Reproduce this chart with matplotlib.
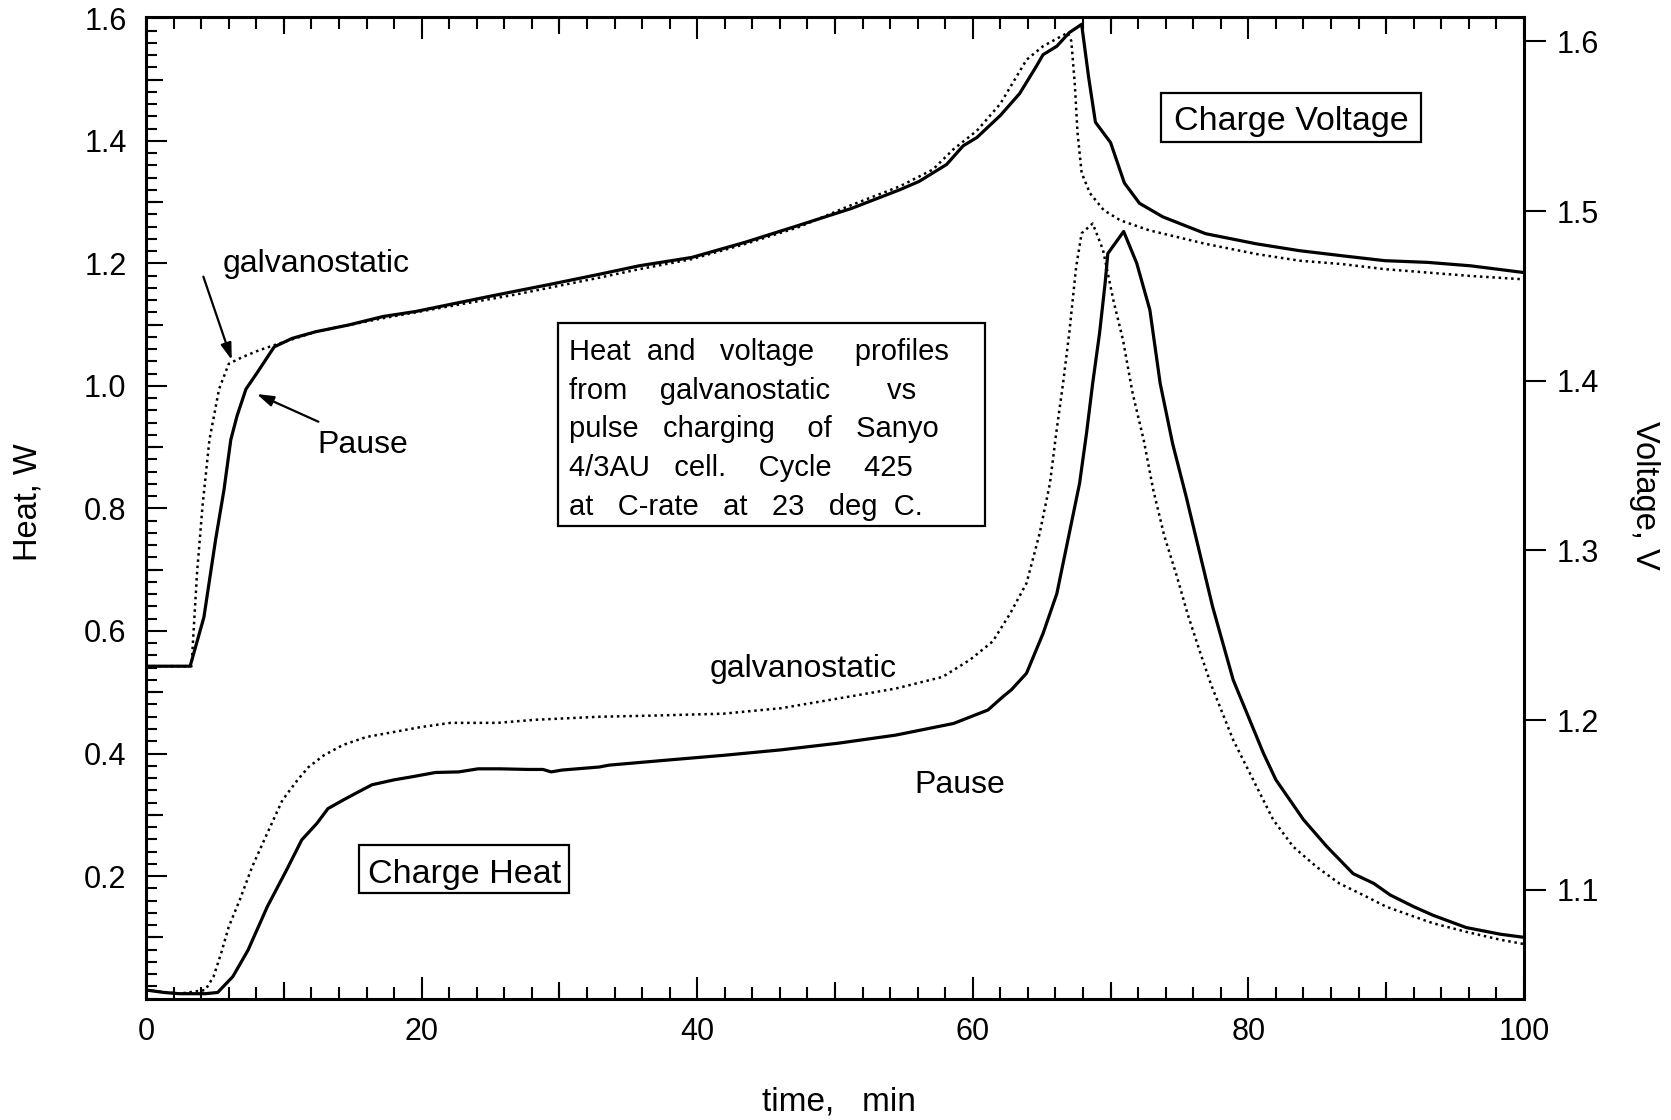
import matplotlib
matplotlib.use("Agg")
import matplotlib.pyplot as plt
from matplotlib.patches import Rectangle
from matplotlib.ticker import MultipleLocator, FormatStrFormatter, FixedLocator

plt.rcParams['font.family'] = ['Liberation Sans', 'DejaVu Sans']

# ---------------- charge voltage, V (right axis) ----------------
t_volt_galv = [0.0, 3.3, 3.7, 4.1, 4.6, 5.3, 6.0, 7.0, 8.2, 9.3, 12.3, 17.2, 22.0,
               26.8, 32.9, 35.8, 39.6, 43.5, 47.4, 51.2, 54.7, 57.1, 58.6, 60.3,
               62.0, 63.9, 65.1, 66.9, 67.15, 67.4, 67.6, 67.9, 68.5, 69.5, 70.7,
               72.8, 76.9, 80.6, 83.7, 86.8, 89.9, 93.0, 96.1, 100.0]
volt_galv = [1.2318, 1.2318, 1.2866, 1.3264, 1.3652, 1.3951, 1.4100, 1.4140, 1.4180,
             1.4210, 1.4289, 1.4369, 1.4439, 1.4508, 1.4608, 1.4658, 1.4717, 1.4807,
             1.4907, 1.5036, 1.5146, 1.5245, 1.5365, 1.5474, 1.5633, 1.5892, 1.5972,
             1.6052, 1.6002, 1.5753, 1.5464, 1.5225, 1.5106, 1.5006, 1.4946, 1.4887,
             1.4807, 1.4747, 1.4708, 1.4688, 1.4658, 1.4638, 1.4618, 1.4598]

t_volt_pause = [0.0, 3.2, 4.2, 5.05, 5.65, 6.15, 6.6, 7.25, 8.0, 9.3, 10.6, 12.3, 14.7,
                17.2, 19.6, 22.0, 24.4, 26.8, 29.3, 32.9, 35.8, 39.6, 43.5, 47.4,
                51.2, 54.7, 56.1, 58.1, 59.3, 60.3, 62.0, 63.4, 64.6, 65.1, 66.1,
                67.0, 67.9, 68.4, 68.9, 70.0, 71.0, 72.1, 73.8, 76.9, 80.6, 83.7,
                86.8, 89.9, 93.0, 96.1, 100.0]
volt_pause = [1.2318, 1.2318, 1.2607, 1.3065, 1.3354, 1.3652, 1.3792, 1.3951, 1.4040,
              1.4200, 1.4250, 1.4289, 1.4329, 1.4379, 1.4409, 1.4449, 1.4489, 1.4528,
              1.4568, 1.4628, 1.4678, 1.4727, 1.4817, 1.4917, 1.5016, 1.5126, 1.5175,
              1.5275, 1.5385, 1.5434, 1.5564, 1.5693, 1.5852, 1.5922, 1.5972, 1.6052,
              1.6101, 1.5793, 1.5524, 1.5404, 1.5166, 1.5046, 1.4966, 1.4867, 1.4807,
              1.4767, 1.4737, 1.4708, 1.4698, 1.4678, 1.4638]

# ---------------- charge heat, W (left axis) ----------------
t_heat_galv = [0.0, 2.4, 4.3, 4.9, 5.45, 6.0, 6.8, 7.7, 8.8, 9.9, 11.0, 11.8, 12.9,
               14.3, 16.0, 18.2, 19.9, 22.1, 25.5, 28.2, 32.9, 37.0, 41.9, 46.1,
               50.3, 54.4, 57.8, 59.8, 61.45, 62.7, 63.9, 64.85, 65.6, 66.05, 66.55,
               67.0, 67.5, 67.9, 68.7, 69.45, 70.2, 70.9, 71.6, 72.4, 73.1, 73.9,
               74.8, 75.6, 76.5, 77.3, 78.9, 80.35, 81.8, 83.25, 84.95, 86.6, 88.6,
               90.0, 92.0, 93.4, 95.8, 98.3, 100.0]
heat_galv = [0.014, 0.008, 0.014, 0.036, 0.074, 0.117, 0.161, 0.215, 0.270, 0.324,
             0.357, 0.378, 0.397, 0.414, 0.427, 0.436, 0.443, 0.450, 0.450, 0.455,
             0.460, 0.462, 0.465, 0.474, 0.490, 0.506, 0.525, 0.553, 0.583, 0.628,
             0.678, 0.759, 0.841, 0.922, 1.004, 1.086, 1.194, 1.249, 1.265, 1.222,
             1.140, 1.075, 0.988, 0.912, 0.830, 0.755, 0.690, 0.627, 0.565, 0.512,
             0.422, 0.357, 0.292, 0.248, 0.215, 0.188, 0.166, 0.150, 0.134, 0.123,
             0.109, 0.096, 0.089]

t_heat_pause = [0.0, 1.3, 2.4, 4.3, 5.2, 6.3, 7.4, 8.8, 10.2, 11.3, 12.4, 13.2, 14.3,
                15.3, 16.4, 18.0, 19.3, 21.0, 22.7, 24.1, 25.7, 27.7, 28.8, 29.4,
                30.2, 32.9, 33.6, 37.7, 41.9, 46.1, 50.3, 54.4, 58.6, 61.1, 62.2,
                62.8, 63.9, 65.1, 66.1, 67.0, 67.75, 68.25, 68.7, 69.2, 69.6, 69.8,
                70.95, 71.9, 72.85, 73.6, 74.5, 75.5, 76.3, 77.4, 78.9, 81.1, 82.0,
                84.0, 85.7, 87.6, 89.1, 90.3, 92.0, 93.4, 95.8, 98.3, 100.0]
heat_pause = [0.014, 0.010, 0.008, 0.008, 0.010, 0.036, 0.079, 0.150, 0.210, 0.259,
              0.286, 0.310, 0.324, 0.336, 0.349, 0.357, 0.362, 0.369, 0.370, 0.375,
              0.375, 0.374, 0.374, 0.370, 0.373, 0.378, 0.381, 0.389, 0.397, 0.406,
              0.417, 0.430, 0.449, 0.471, 0.493, 0.504, 0.531, 0.596, 0.661, 0.759,
              0.841, 0.922, 1.004, 1.086, 1.167, 1.216, 1.252, 1.200, 1.124, 1.004,
              0.906, 0.818, 0.743, 0.640, 0.520, 0.400, 0.357, 0.292, 0.248, 0.204,
              0.188, 0.169, 0.150, 0.136, 0.116, 0.105, 0.100]

# ---------------- axis ticks ----------------
time_ticks = [0, 20, 40, 60, 80, 100]
time_mid_ticks = [10, 30, 50, 70, 90]
heat_ticks = [0.2, 0.4, 0.6, 0.8, 1.0, 1.2, 1.4, 1.6]
heat_mid_ticks = [0.1, 0.3, 0.5, 0.7, 0.9, 1.1, 1.3, 1.5]
volt_ticks = [1.1, 1.2, 1.3, 1.4, 1.5, 1.6]

TICK_FS = 22
NOTE_FS = 23
BOX_FS = 24.5
DESC_FS = 21
LW_SPINE = 2.2
TW = 1.5

fig = plt.figure(figsize=(16.71, 11.20), dpi=100)
ax = fig.add_axes([0.0874, 0.1084, 0.8246, 0.8764])
ax2 = ax.twinx()

# heat curves
ax.plot(t_heat_pause, heat_pause, color='black', lw=2.3, solid_joinstyle='round')
ax.plot(t_heat_galv, heat_galv, color='black', lw=1.8, linestyle=(0, (1.0, 1.5)))
# voltage curves
ax2.plot(t_volt_pause, volt_pause, color='black', lw=2.3, solid_joinstyle='round')
ax2.plot(t_volt_galv, volt_galv, color='black', lw=1.8, linestyle=(0, (1.0, 1.5)))

ax.set_xlim(0, 100)
ax.set_ylim(0, 1.602)
ax2.set_ylim(1.0359, 1.6144)

# spines
for s in ax.spines.values():
    s.set_linewidth(LW_SPINE)
ax.spines['right'].set_visible(False)
for name, s in ax2.spines.items():
    s.set_linewidth(LW_SPINE)
    if name != 'right':
        s.set_visible(False)

# x axis: inward ticks on bottom and top
ax.xaxis.set_major_locator(FixedLocator(time_ticks))
ax.xaxis.set_minor_locator(MultipleLocator(2))
ax.set_xticklabels([str(v) for v in time_ticks])
ax.tick_params(axis='x', which='major', direction='in', length=16, width=TW,
               top=True, bottom=True, labelsize=TICK_FS, pad=13)
ax.tick_params(axis='x', which='minor', direction='in', length=8.5, width=TW,
               top=True, bottom=True)
for side in ('bottom', 'top'):
    sec = ax.secondary_xaxis(side)
    sec.set_xticks(time_mid_ticks)
    sec.tick_params(direction='in', length=12, width=TW,
                    labelbottom=False, labeltop=False)
    for s in sec.spines.values():
        s.set_visible(False)

# left axis: heat
ax.yaxis.set_major_locator(FixedLocator(heat_ticks))
ax.yaxis.set_minor_locator(MultipleLocator(0.02))
ax.yaxis.set_major_formatter(FormatStrFormatter('%.1f'))
ax.tick_params(axis='y', which='major', direction='in', length=15, width=TW,
               left=True, right=False, labelsize=TICK_FS, pad=14)
ax.tick_params(axis='y', which='minor', direction='in', length=8, width=TW,
               left=True, right=False)
secy = ax.secondary_yaxis('left')
secy.set_yticks(heat_mid_ticks)
secy.tick_params(direction='in', length=12, width=TW, labelleft=False)
for s in secy.spines.values():
    s.set_visible(False)

# right axis: voltage
ax2.yaxis.set_major_locator(FixedLocator(volt_ticks))
ax2.yaxis.set_major_formatter(FormatStrFormatter('%.1f'))
ax2.tick_params(axis='y', which='major', direction='out', length=15.5, width=TW,
                right=True, labelsize=TICK_FS, pad=8)

# axis titles
fig.text(0.0168, 0.552, 'Heat, W', rotation=90, ha='center', va='center', fontsize=23.5)
fig.text(0.984, 0.5575, 'Voltage, V', rotation=270, ha='center', va='center', fontsize=23.5)
fig.text(0.502, 0.0085, 'time,   min', ha='center', va='baseline', fontsize=24)

tr = ax.transAxes
arrow_style = dict(arrowstyle='-|>,head_length=1.0,head_width=0.32',
                   lw=1.6, color='black', shrinkA=0, shrinkB=0)

# curve annotations
ax.text(0.1233, 0.7406, 'galvanostatic', transform=tr, ha='center', va='baseline',
        fontsize=NOTE_FS)
ax.annotate('', xy=(0.0622, 0.6506), xytext=(0.0416, 0.7355), xycoords=tr,
            textcoords=tr, arrowprops=arrow_style)
ax.text(0.1571, 0.5555, 'Pause', transform=tr, ha='center', va='baseline',
        fontsize=NOTE_FS)
ax.annotate('', xy=(0.0804, 0.6159), xytext=(0.1251, 0.5877), xycoords=tr,
            textcoords=tr, arrowprops=arrow_style)
ax.text(0.4768, 0.3279, 'galvanostatic', transform=tr, ha='center', va='baseline',
        fontsize=NOTE_FS)
ax.text(0.5903, 0.2098, 'Pause', transform=tr, ha='center', va='baseline',
        fontsize=NOTE_FS)

# boxed labels
ax.add_patch(Rectangle((0.1549, 0.1073), 0.1522, 0.0491, transform=tr, fill=False,
                       lw=1.6, ec='black', clip_on=False))
ax.text(0.2315, 0.1180, 'Charge Heat', transform=tr, ha='center', va='baseline',
        fontsize=BOX_FS)

ax.add_patch(Rectangle((0.7363, 0.8730), 0.1890, 0.0493, transform=tr, fill=False,
                       lw=1.6, ec='black', clip_on=False))
ax.text(0.8314, 0.8849, 'Charge Voltage', transform=tr, ha='center', va='baseline',
        fontsize=BOX_FS)

# description box
ax.add_patch(Rectangle((0.2988, 0.4810), 0.3099, 0.2076, transform=tr, fill=False,
                       lw=1.6, ec='black', clip_on=False))
desc_lines = ['Heat  and   voltage     profiles',
              'from    galvanostatic       vs',
              'pulse   charging    of   Sanyo',
              '4/3AU   cell.    Cycle    425',
              'at   C-rate   at   23   deg  C.']
desc_y = [0.6506, 0.6111, 0.5717, 0.5322, 0.4926]
for line, y in zip(desc_lines, desc_y):
    ax.text(0.3072, y, line, transform=tr, ha='left', va='baseline', fontsize=DESC_FS)

fig.savefig('out.png', dpi=100, facecolor='white')
